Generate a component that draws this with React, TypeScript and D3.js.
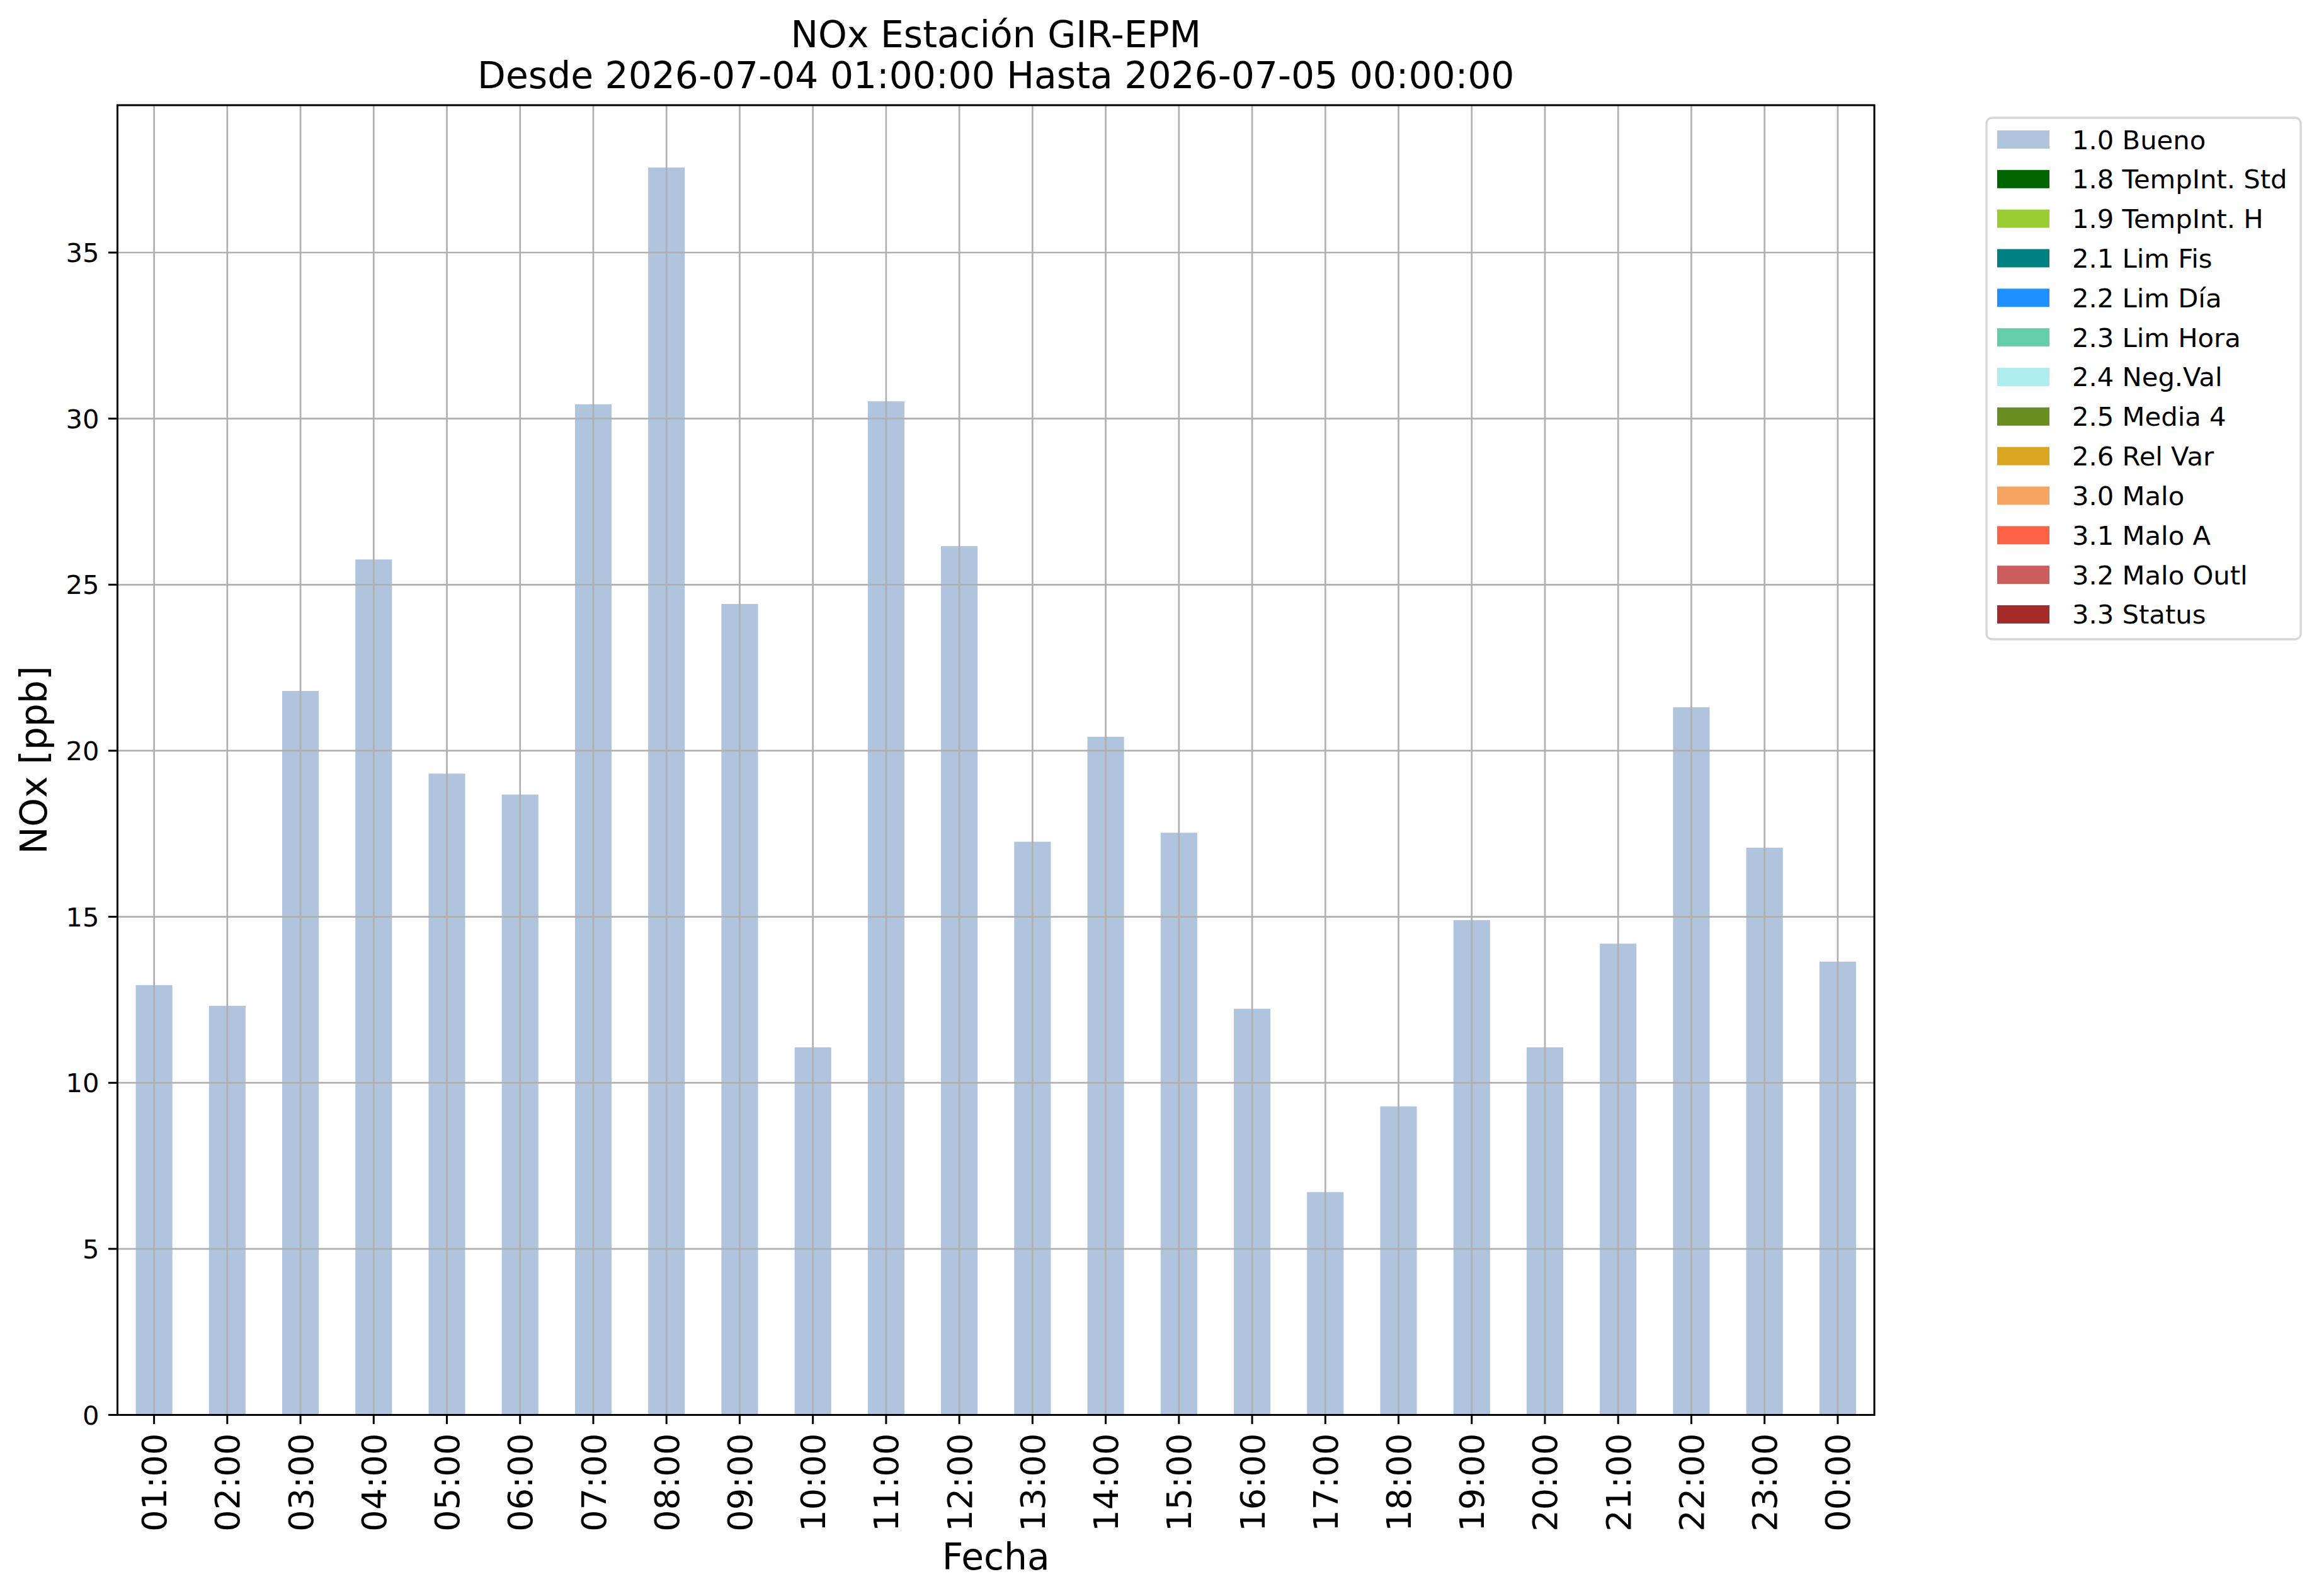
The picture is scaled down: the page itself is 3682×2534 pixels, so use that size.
import * as d3 from 'd3';

const hours = [
  '01:00', '02:00', '03:00', '04:00', '05:00', '06:00', '07:00', '08:00',
  '09:00', '10:00', '11:00', '12:00', '13:00', '14:00', '15:00', '16:00',
  '17:00', '18:00', '19:00', '20:00', '21:00', '22:00', '23:00', '00:00',
];
const noxValues = [
  12.94, 12.32, 21.8, 25.76, 19.31, 18.68, 30.43, 37.56,
  24.42, 11.07, 30.52, 26.16, 17.26, 20.42, 17.53, 12.23,
  6.71, 9.29, 14.9, 11.07, 14.19, 21.31, 17.08, 13.65,
];
const yTicks = [0, 5, 10, 15, 20, 25, 30, 35];
const legendLabels = [
  '1.0 Bueno', '1.8 TempInt. Std', '1.9 TempInt. H', '2.1 Lim Fis',
  '2.2 Lim Día', '2.3 Lim Hora', '2.4 Neg.Val', '2.5 Media 4',
  '2.6 Rel Var', '3.0 Malo', '3.1 Malo A', '3.2 Malo Outl', '3.3 Status',
];
const legendColors = [
  '#b0c4de', '#006400', '#9acd32', '#008080', '#1e90ff', '#66cdaa',
  '#afeeee', '#6b8e23', '#daa520', '#f4a460', '#ff6347', '#cd5c5c', '#a52a2a',
];

const W = 3682;
const H = 2534;
const m = { left: 186.5, right: 2976, top: 167, bottom: 2246.5 };
const font = 'DejaVu Sans, sans-serif';
const gridColor = '#b0b0b0';

export default function App() {
  const x = d3.scaleBand<string>()
    .domain(hours)
    .range([m.left, m.right])
    .paddingInner(0.5)
    .paddingOuter(0.25);

  const y = d3.scaleLinear()
    .domain([0, d3.max(noxValues)! * 1.05])
    .range([m.bottom, m.top]);

  const cx = (h: string) => x(h)! + x.bandwidth() / 2;
  const midX = (m.left + m.right) / 2;
  const midY = (m.top + m.bottom) / 2;

  return (
    <svg
      width={W}
      height={H}
      style={{ position: 'absolute', left: 0, top: 0, background: '#fff' }}
      fontFamily={font}
    >
      <rect x={0} y={0} width={W} height={H} fill="#fff" />

      {/* bars */}
      {noxValues.map((v, i) => (
        <rect
          key={hours[i]}
          x={x(hours[i])}
          y={y(v)}
          width={x.bandwidth()}
          height={y(0) - y(v)}
          fill={legendColors[0]}
        />
      ))}

      {/* grid on top of the bars */}
      {hours.map(h => (
        <line key={'gx' + h} x1={cx(h)} x2={cx(h)} y1={m.top} y2={m.bottom}
          stroke={gridColor} strokeWidth={2.7} />
      ))}
      {yTicks.map(t => (
        <line key={'gy' + t} x1={m.left} x2={m.right} y1={y(t)} y2={y(t)}
          stroke={gridColor} strokeWidth={2.7} />
      ))}

      {/* frame */}
      <rect x={m.left} y={m.top} width={m.right - m.left} height={m.bottom - m.top}
        fill="none" stroke="#000" strokeWidth={3} />

      {/* y axis */}
      {yTicks.map(t => (
        <g key={'yt' + t}>
          <line x1={m.left - 14.6} x2={m.left} y1={y(t)} y2={y(t)} stroke="#000" strokeWidth={3} />
          <text x={m.left - 29} y={y(t)} dy="0.36em" textAnchor="end" fontSize={41.7}>{t}</text>
        </g>
      ))}

      {/* x axis */}
      {hours.map(h => (
        <g key={'xt' + h}>
          <line x1={cx(h)} x2={cx(h)} y1={m.bottom} y2={m.bottom + 14.6} stroke="#000" strokeWidth={3} />
          <text
            transform={`translate(${cx(h)},${m.bottom + 29}) rotate(-90)`}
            dy="0.36em"
            textAnchor="end"
            fontSize={54.2}
          >
            {h}
          </text>
        </g>
      ))}

      {/* titles */}
      <text x={midX} y={75} textAnchor="middle" fontSize={58.3}>NOx Estación GIR-EPM</text>
      <text x={midX} y={140} textAnchor="middle" fontSize={58.3}>
        Desde 2026-07-04 01:00:00 Hasta 2026-07-05 00:00:00
      </text>
      <text x={midX} y={2492} textAnchor="middle" fontSize={58.3}>Fecha</text>
      <text transform={`translate(74,${midY}) rotate(-90)`} textAnchor="middle" fontSize={58.3}>
        NOx [ppb]
      </text>

      {/* legend */}
      <rect x={3154} y={187} width={499} height={828} rx={9}
        fill="#fff" stroke="#d6d6d6" strokeWidth={3.3} />
      {legendLabels.map((lab, i) => (
        <g key={lab}>
          <rect x={3171} y={207 + i * 62.83} width={83} height={29} fill={legendColors[i]} />
          <text x={3290} y={236.5 + i * 62.83} fontSize={41.7}>{lab}</text>
        </g>
      ))}
    </svg>
  );
}
